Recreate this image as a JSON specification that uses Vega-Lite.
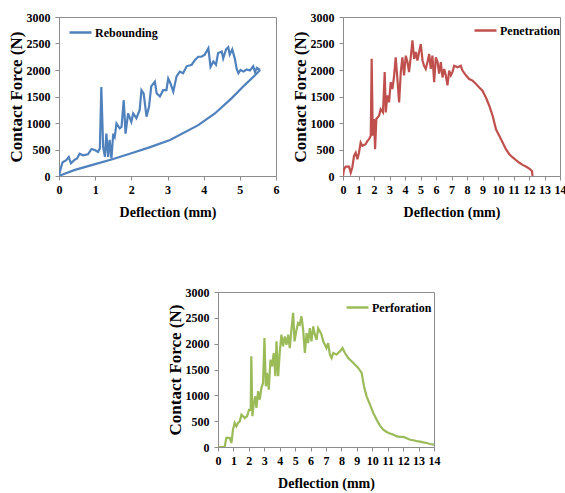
{
  "$schema": "https://vega.github.io/schema/vega-lite/v6.json",
  "padding": {"left": 6, "top": 10, "right": 0, "bottom": 0},
  "background": "white",
  "config": {
    "font": "Liberation Serif",
    "view": {"stroke": "#8c8c8c", "strokeWidth": 1},
    "axis": {
      "grid": false,
      "labelFont": "Liberation Serif",
      "labelFontWeight": "bold",
      "labelFontSize": 12,
      "labelColor": "#000",
      "labelOverlap": false,
      "format": "d",
      "titleFont": "Liberation Serif",
      "titleFontWeight": "bold",
      "titleColor": "#000",
      "tickColor": "#8c8c8c",
      "domainColor": "#8c8c8c",
      "tickSize": 4
    },
    "axisX": {"titleFontSize": 14, "labelPadding": 4, "titlePadding": 10, "labelAngle": 0, "labelFlush": false},
    "axisY": {"titleFontSize": 17, "labelPadding": 5, "titlePadding": 1},
    "legend": {
      "orient": "none",
      "title": null,
      "symbolType": "stroke",
      "symbolSize": 484,
      "symbolStrokeWidth": 2.5,
      "labelFont": "Liberation Serif",
      "labelFontWeight": "bold",
      "labelFontSize": 12,
      "labelColor": "#000",
      "labelOffset": 2,
      "padding": 0
    }
  },
  "datasets": {
    "reb": [
      {"p":"load","d":0,"f":0},{"p":"load","d":0.05,"f":150},{"p":"load","d":0.1,"f":260},{"p":"load","d":0.2,"f":300},
      {"p":"load","d":0.27,"f":360},{"p":"load","d":0.33,"f":240},{"p":"load","d":0.42,"f":300},{"p":"load","d":0.5,"f":330},
      {"p":"load","d":0.57,"f":420},{"p":"load","d":0.66,"f":390},{"p":"load","d":0.8,"f":410},{"p":"load","d":0.9,"f":510},
      {"p":"load","d":0.99,"f":490},{"p":"load","d":1.08,"f":455},{"p":"load","d":1.13,"f":520},{"p":"load","d":1.17,"f":1680},
      {"p":"load","d":1.22,"f":550},{"p":"load","d":1.27,"f":360},{"p":"load","d":1.31,"f":800},{"p":"load","d":1.36,"f":360},
      {"p":"load","d":1.4,"f":680},{"p":"load","d":1.45,"f":330},{"p":"load","d":1.5,"f":800},{"p":"load","d":1.54,"f":740},
      {"p":"load","d":1.59,"f":990},{"p":"load","d":1.68,"f":900},{"p":"load","d":1.73,"f":930},{"p":"load","d":1.79,"f":1430},
      {"p":"load","d":1.84,"f":800},{"p":"load","d":1.91,"f":1180},{"p":"load","d":2.0,"f":1020},{"p":"load","d":2.05,"f":1180},
      {"p":"load","d":2.14,"f":1090},{"p":"load","d":2.23,"f":1240},{"p":"load","d":2.28,"f":1620},{"p":"load","d":2.34,"f":1560},
      {"p":"load","d":2.42,"f":1120},{"p":"load","d":2.49,"f":1310},{"p":"load","d":2.55,"f":1690},{"p":"load","d":2.65,"f":1780},
      {"p":"load","d":2.7,"f":1560},{"p":"load","d":2.79,"f":1500},{"p":"load","d":2.88,"f":1620},{"p":"load","d":2.97,"f":1620},
      {"p":"load","d":3.02,"f":1840},{"p":"load","d":3.08,"f":1750},{"p":"load","d":3.16,"f":1590},{"p":"load","d":3.25,"f":1880},
      {"p":"load","d":3.34,"f":1970},{"p":"load","d":3.43,"f":1940},{"p":"load","d":3.53,"f":2070},{"p":"load","d":3.67,"f":2100},
      {"p":"load","d":3.76,"f":2190},{"p":"load","d":3.85,"f":2250},{"p":"load","d":3.94,"f":2250},{"p":"load","d":4.03,"f":2290},
      {"p":"load","d":4.13,"f":2410},{"p":"load","d":4.19,"f":2060},{"p":"load","d":4.27,"f":2160},{"p":"load","d":4.34,"f":2100},
      {"p":"load","d":4.4,"f":2320},{"p":"load","d":4.5,"f":2350},{"p":"load","d":4.54,"f":2220},{"p":"load","d":4.62,"f":2390},
      {"p":"load","d":4.68,"f":2430},{"p":"load","d":4.72,"f":2290},{"p":"load","d":4.79,"f":2390},{"p":"load","d":4.86,"f":2220},
      {"p":"load","d":4.91,"f":2030},{"p":"load","d":4.96,"f":1940},{"p":"load","d":5.02,"f":2000},{"p":"load","d":5.1,"f":1970},
      {"p":"load","d":5.19,"f":2010},{"p":"load","d":5.28,"f":1990},{"p":"load","d":5.37,"f":2070},{"p":"load","d":5.42,"f":1960},
      {"p":"load","d":5.47,"f":2040},{"p":"load","d":5.56,"f":2000},
      {"p":"unload","d":0,"f":0},{"p":"unload","d":0.1,"f":30},{"p":"unload","d":0.44,"f":115},{"p":"unload","d":1.0,"f":225},
      {"p":"unload","d":1.5,"f":320},{"p":"unload","d":2.0,"f":430},{"p":"unload","d":2.5,"f":540},{"p":"unload","d":3.07,"f":680},
      {"p":"unload","d":3.85,"f":960},{"p":"unload","d":4.31,"f":1180},{"p":"unload","d":4.77,"f":1465},{"p":"unload","d":5.14,"f":1720},
      {"p":"unload","d":5.42,"f":1900},{"p":"unload","d":5.56,"f":2000}
    ],
    "pen": [
      {"d":0,"f":0},{"d":0.06,"f":126},{"d":0.17,"f":177},{"d":0.39,"f":177},{"d":0.5,"f":63},{"d":0.6,"f":160},{"d":0.71,"f":380},
      {"d":0.82,"f":440},{"d":0.93,"f":316},{"d":1.03,"f":440},{"d":1.14,"f":630},{"d":1.25,"f":570},{"d":1.46,"f":600},{"d":1.57,"f":660},
      {"d":1.68,"f":695},{"d":1.79,"f":760},{"d":1.85,"f":2210},{"d":1.92,"f":760},{"d":2.0,"f":1075},{"d":2.07,"f":505},{"d":2.15,"f":1075},
      {"d":2.33,"f":1140},{"d":2.43,"f":1260},{"d":2.58,"f":1200},{"d":2.69,"f":1960},{"d":2.76,"f":1200},{"d":2.86,"f":1520},{"d":2.97,"f":1390},
      {"d":3.08,"f":1770},{"d":3.19,"f":1640},{"d":3.3,"f":1900},{"d":3.4,"f":2240},{"d":3.51,"f":1830},{"d":3.62,"f":1390},{"d":3.73,"f":1960},
      {"d":3.83,"f":2240},{"d":3.94,"f":1900},{"d":4.05,"f":2270},{"d":4.16,"f":2150},{"d":4.26,"f":1960},{"d":4.37,"f":2240},{"d":4.48,"f":2560},
      {"d":4.59,"f":2210},{"d":4.7,"f":2340},{"d":4.8,"f":2180},{"d":4.91,"f":2340},{"d":5.02,"f":2490},{"d":5.13,"f":2180},{"d":5.23,"f":2080},
      {"d":5.34,"f":2020},{"d":5.45,"f":2150},{"d":5.56,"f":2300},{"d":5.66,"f":2020},{"d":5.77,"f":2270},{"d":5.88,"f":1770},{"d":5.99,"f":2240},
      {"d":6.1,"f":2150},{"d":6.2,"f":1930},{"d":6.31,"f":2150},{"d":6.42,"f":1860},{"d":6.53,"f":2020},{"d":6.63,"f":1900},{"d":6.74,"f":1710},
      {"d":6.85,"f":1990},{"d":6.96,"f":1900},{"d":7.06,"f":1960},{"d":7.17,"f":2080},{"d":7.39,"f":2050},{"d":7.6,"f":2080},{"d":7.71,"f":1990},
      {"d":7.93,"f":1900},{"d":8.14,"f":1830},{"d":8.36,"f":1800},{"d":8.57,"f":1740},{"d":8.79,"f":1670},{"d":9.0,"f":1610},{"d":9.22,"f":1480},
      {"d":9.43,"f":1330},{"d":9.65,"f":1140},{"d":9.87,"f":880},{"d":10.08,"f":760},{"d":10.3,"f":630},{"d":10.51,"f":505},{"d":10.73,"f":410},
      {"d":10.95,"f":350},{"d":11.16,"f":300},{"d":11.38,"f":250},{"d":11.59,"f":210},{"d":11.8,"f":180},{"d":12.02,"f":140},{"d":12.19,"f":95},
      {"d":12.23,"f":0}
    ],
    "perf": [
      {"d":0,"f":0},{"d":0.43,"f":0},{"d":0.54,"f":175},{"d":0.76,"f":175},{"d":0.87,"f":77},{"d":0.97,"f":335},{"d":1.08,"f":465},
      {"d":1.19,"f":400},{"d":1.3,"f":465},{"d":1.41,"f":497},{"d":1.52,"f":625},{"d":1.62,"f":595},{"d":1.73,"f":560},{"d":1.88,"f":595},
      {"d":2.01,"f":720},{"d":2.12,"f":720},{"d":2.16,"f":1755},{"d":2.23,"f":595},{"d":2.32,"f":850},{"d":2.42,"f":980},{"d":2.49,"f":755},
      {"d":2.6,"f":1080},{"d":2.71,"f":915},{"d":2.81,"f":1140},{"d":2.92,"f":1240},{"d":3.01,"f":2110},{"d":3.1,"f":1175},{"d":3.18,"f":1435},
      {"d":3.29,"f":1110},{"d":3.4,"f":1690},{"d":3.51,"f":1560},{"d":3.61,"f":1820},{"d":3.72,"f":1370},{"d":3.79,"f":2045},{"d":3.9,"f":1370},
      {"d":4.0,"f":1820},{"d":4.11,"f":2175},{"d":4.22,"f":1950},{"d":4.33,"f":2140},{"d":4.44,"f":1980},{"d":4.55,"f":2175},{"d":4.65,"f":1915},
      {"d":4.76,"f":2270},{"d":4.87,"f":2595},{"d":4.96,"f":2045},{"d":5.09,"f":2270},{"d":5.19,"f":2400},{"d":5.3,"f":2370},{"d":5.41,"f":2530},
      {"d":5.52,"f":2270},{"d":5.63,"f":1820},{"d":5.74,"f":2205},{"d":5.84,"f":2010},{"d":5.95,"f":2300},{"d":6.06,"f":2045},{"d":6.17,"f":2335},
      {"d":6.28,"f":2175},{"d":6.39,"f":2075},{"d":6.49,"f":2300},{"d":6.6,"f":2240},{"d":6.71,"f":2175},{"d":6.82,"f":2045},{"d":6.93,"f":1980},
      {"d":7.03,"f":1915},{"d":7.14,"f":2010},{"d":7.25,"f":1790},{"d":7.36,"f":1720},{"d":7.47,"f":1820},{"d":7.68,"f":1790},{"d":7.9,"f":1850},
      {"d":8.07,"f":1915},{"d":8.23,"f":1820},{"d":8.44,"f":1720},{"d":8.66,"f":1660},{"d":8.87,"f":1595},{"d":9.09,"f":1530},{"d":9.31,"f":1435},
      {"d":9.46,"f":1175},{"d":9.63,"f":980},{"d":9.85,"f":820},{"d":10.06,"f":660},{"d":10.28,"f":530},{"d":10.5,"f":415},{"d":10.71,"f":335},
      {"d":10.93,"f":290},{"d":11.15,"f":260},{"d":11.36,"f":240},{"d":11.58,"f":205},{"d":11.8,"f":195},{"d":12.01,"f":195},{"d":12.23,"f":170},
      {"d":12.45,"f":140},{"d":12.66,"f":130},{"d":12.88,"f":115},{"d":13.1,"f":105},{"d":13.31,"f":90},{"d":13.53,"f":77},{"d":13.74,"f":58},
      {"d":14.0,"f":45}
    ]
  },
  "vconcat": [
    {
      "hconcat": [
        {
          "width": 217, "height": 159,
          "data": {"name": "reb"},
          "mark": {"type": "line", "strokeWidth": 2.2, "clip": true},
          "encoding": {
            "x": {"field": "d", "type": "quantitative", "title": "Deflection (mm)", "scale": {"domain": [0, 6], "nice": false}, "axis": {"values": [0,1,2,3,4,5,6]}},
            "y": {"field": "f", "type": "quantitative", "title": "Contact Force (N)", "scale": {"domain": [0, 3000], "nice": false}, "axis": {"values": [0,500,1000,1500,2000,2500,3000]}},
            "detail": {"field": "p", "type": "nominal"},
            "color": {"datum": "Rebounding", "type": "nominal", "scale": {"range": ["#4F81BD"]}, "legend": {"legendX": 9, "legendY": 3}}
          }
        },
        {
          "width": 217, "height": 159,
          "data": {"name": "pen"},
          "mark": {"type": "line", "strokeWidth": 2.2, "clip": true},
          "encoding": {
            "x": {"field": "d", "type": "quantitative", "title": "Deflection (mm)", "scale": {"domain": [0, 14], "nice": false}, "axis": {"values": [0,1,2,3,4,5,6,7,8,9,10,11,12,13,14]}},
            "y": {"field": "f", "type": "quantitative", "title": "Contact Force (N)", "scale": {"domain": [0, 3000], "nice": false}, "axis": {"values": [0,500,1000,1500,2000,2500,3000]}},
            "color": {"datum": "Penetration", "type": "nominal", "scale": {"range": ["#C0504D"]}, "legend": {"legendX": 130, "legendY": 1}}
          }
        }
      ],
      "spacing": 10,
      "align": "none",
      "resolve": {"scale": {"color": "independent"}, "legend": {"color": "independent"}}
    },
    {
      "hconcat": [
        {
          "width": 106, "height": 20,
          "data": {"values": []},
          "mark": {"type": "point", "opacity": 0},
          "encoding": {},
          "view": {"stroke": null}
        },
        {
          "width": 216, "height": 155,
          "data": {"name": "perf"},
          "mark": {"type": "line", "strokeWidth": 2.2, "clip": true},
          "encoding": {
            "x": {"field": "d", "type": "quantitative", "title": "Deflection (mm)", "scale": {"domain": [0, 14], "nice": false}, "axis": {"values": [0,1,2,3,4,5,6,7,8,9,10,11,12,13,14]}},
            "y": {"field": "f", "type": "quantitative", "title": "Contact Force (N)", "scale": {"domain": [0, 3000], "nice": false}, "axis": {"values": [0,500,1000,1500,2000,2500,3000]}},
            "color": {"datum": "Perforation", "type": "nominal", "scale": {"range": ["#9BBB59"]}, "legend": {"legendX": 127, "legendY": 3}}
          }
        }
      ],
      "spacing": 0,
      "align": "none",
      "resolve": {"scale": {"color": "independent"}, "legend": {"color": "independent"}}
    }
  ],
  "spacing": 65,
  "align": "none",
  "resolve": {"scale": {"color": "independent"}, "legend": {"color": "independent"}}
}
